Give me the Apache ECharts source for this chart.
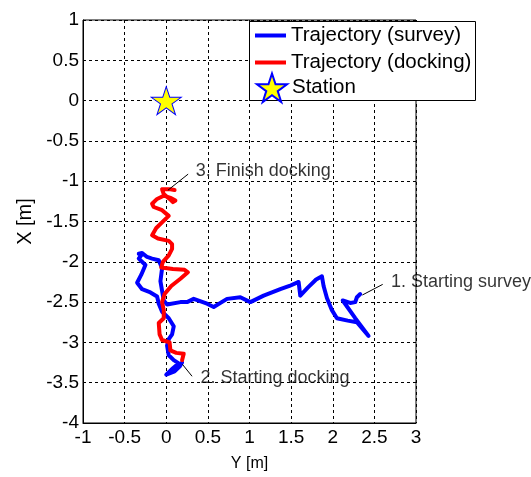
<!DOCTYPE html>
<html><head><meta charset="utf-8">
<script src="https://cdn.jsdelivr.net/npm/echarts@6/dist/echarts.min.js"></script>
<style>html,body{margin:0;padding:0;background:#fff}#c{width:531px;height:477px}</style>
</head><body><div id="c"></div>
<script>
// Survey trajectory: horizontal = Y [m], vertical = X [m]
var surveyY = [2.33,2.29,2.27,2.21,2.12,2.27,2.43,2.29,2.18,2.05,1.99,1.93,1.89,1.87,1.80,1.70,1.61,1.59,1.48,1.37,1.17,1.01,0.89,0.73,0.57,0.49,0.33,0.25,0.17,0.01,-0.03,-0.05,-0.07,-0.05,-0.09,-0.17,-0.23,-0.29,-0.33,-0.30,-0.33,-0.25,-0.30,-0.35,-0.29,-0.19,-0.11,-0.09,-0.05,0.03,0.09,0.07,0.03,0.01,0.03,0.09,0.15,0.08,0.00,0.02,0.10,0.16,0.19];
var surveyX = [-2.40,-2.44,-2.50,-2.51,-2.48,-2.70,-2.92,-2.75,-2.73,-2.70,-2.60,-2.45,-2.30,-2.18,-2.22,-2.32,-2.42,-2.25,-2.30,-2.34,-2.42,-2.50,-2.44,-2.46,-2.56,-2.52,-2.46,-2.50,-2.50,-2.53,-2.48,-2.36,-2.24,-2.08,-1.98,-1.96,-1.94,-1.89,-1.90,-1.92,-1.96,-2.04,-2.16,-2.26,-2.34,-2.38,-2.43,-2.52,-2.62,-2.70,-2.80,-2.90,-2.96,-3.04,-3.16,-3.22,-3.26,-3.32,-3.40,-3.42,-3.36,-3.30,-3.25];
// Docking trajectory
var dockY = [0.19,0.21,0.12,0.05,0.04,-0.05,-0.08,-0.09,-0.03,-0.03,-0.05,-0.02,0.06,0.17,0.26,0.22,0.08,-0.06,-0.04,0.03,0.07,0.07,0.03,-0.10,-0.17,-0.12,-0.02,0.03,-0.05,-0.15,-0.17,-0.11,-0.03,0.06,0.11,0.08,0.04,-0.03,-0.05,0.05,0.10];
var dockX = [-3.22,-3.14,-3.13,-3.10,-3.00,-2.97,-2.90,-2.76,-2.70,-2.60,-2.50,-2.40,-2.30,-2.21,-2.13,-2.10,-2.09,-2.07,-2.00,-1.92,-1.84,-1.78,-1.74,-1.71,-1.67,-1.58,-1.48,-1.43,-1.36,-1.32,-1.28,-1.22,-1.18,-1.21,-1.24,-1.26,-1.22,-1.16,-1.10,-1.10,-1.11];
// Station
var stationY = [0];
var stationX = [0];
// Annotations: text anchor and arrow (tail -> tip)
var noteText = ['1. Starting survey','2. Starting docking','3. Finish docking'];
var noteY = [2.70,0.41,0.355];
var noteX = [-2.253,-3.44,-0.88];
var arrowFromY = [2.60,0.31,0.263];
var arrowFromX = [-2.28,-3.42,-0.912];
var arrowToY = [2.356,0.194,0.02];
var arrowToX = [-2.412,-3.272,-1.112];
// Axes
var xTicksMin = -1, xTicksMax = 3, yTicksMin = -4, yTicksMax = 1, tickStep = 0.5;

function zip(a,b){return a.map(function(v,i){return [v,b[i]];});}
var starPath = 'path://M50,0L61.2,34.5L97.6,34.5L68.2,55.9L79.4,90.5L50,69.1L20.6,90.5L31.8,55.9L2.4,34.5L38.8,34.5Z';
var FONT = 'Liberation Sans, Arial, sans-serif';

var chart = echarts.init(document.getElementById('c'), null, {renderer:'canvas'});
var option = {
  animation:false,
  backgroundColor:'#fff',
  grid:{left:83,right:115,top:20,bottom:40,show:true,borderColor:'#000',borderWidth:1,backgroundColor:'transparent'},
  xAxis:{type:'value',min:xTicksMin,max:xTicksMax,interval:tickStep,
    name:'Y [m]',nameLocation:'middle',nameGap:33,nameTextStyle:{fontSize:16,color:'#000',fontFamily:FONT},
    axisLine:{show:true,onZero:false,lineStyle:{color:'#000'}},axisTick:{show:false},
    axisLabel:{fontSize:19,color:'#000',margin:5,fontFamily:FONT},
    splitLine:{show:true,lineStyle:{color:'#000',type:[3,3],width:1}}},
  yAxis:{type:'value',min:yTicksMin,max:yTicksMax,interval:tickStep,
    name:'X [m]',nameLocation:'middle',nameGap:46,nameRotate:90,nameTextStyle:{fontSize:20,color:'#000',fontFamily:FONT},
    axisLine:{show:true,onZero:false,lineStyle:{color:'#000'}},axisTick:{show:false},
    axisLabel:{fontSize:19,color:'#000',margin:4,fontFamily:FONT},
    splitLine:{show:true,lineStyle:{color:'#000',type:[3,3],width:1}}},
  graphic:[{type:'rect',shape:{x:249.5,y:21.5,width:226,height:79},style:{fill:'#fff',stroke:'#000',lineWidth:1},z:50}],
  legend:[
    {data:['Trajectory (survey)','Trajectory (docking)'],orient:'vertical',left:255,top:25,padding:0,itemWidth:31,itemHeight:4,itemGap:6,icon:'rect',
     textStyle:{fontSize:20.5,color:'#000',fontFamily:FONT,lineHeight:20},z:60,selectedMode:false},
    {data:['Station'],orient:'vertical',left:256,top:72.5,padding:0,itemWidth:30,itemHeight:29,icon:starPath,
     textStyle:{fontSize:20.5,color:'#000',fontFamily:FONT},z:60,selectedMode:false}
  ],
  series:[
    {name:'Trajectory (survey)',type:'line',data:zip(surveyY,surveyX),showSymbol:false,symbol:'none',
     lineStyle:{color:'#0000ff',width:4,join:'round',cap:'round'},itemStyle:{color:'#0000ff'},z:3},
    {name:'Trajectory (docking)',type:'line',data:zip(dockY,dockX),showSymbol:false,symbol:'none',
     lineStyle:{color:'#ff0000',width:4,join:'round',cap:'round'},itemStyle:{color:'#ff0000'},z:4},
    {name:'Station',type:'scatter',data:zip(stationY,stationX),symbol:starPath,symbolSize:[30,28],symbolKeepAspect:false,
     itemStyle:{color:'#ffff00',borderColor:'#0000ff',borderWidth:1,opacity:1},z:5},
    {name:'notes',type:'scatter',symbol:'circle',symbolSize:0,
     data:noteText.map(function(t,i){return {value:[noteY[i],noteX[i]],name:t};}),
     label:{show:true,position:'right',distance:0,formatter:function(p){return p.name;},fontSize:18,color:'#000',fontFamily:FONT},
     z:6,silent:true},
    {name:'arrows',type:'line',data:[],z:6,silent:true,
     markLine:{silent:true,symbol:['none','arrow'],symbolSize:[0,7],label:{show:false},
       lineStyle:{color:'#000',width:1,type:'solid'},
       data:arrowFromY.map(function(v,i){return [{coord:[v,arrowFromX[i]]},{coord:[arrowToY[i],arrowToX[i]]}];})}}
  ]
};
chart.setOption(option);
</script></body></html>
